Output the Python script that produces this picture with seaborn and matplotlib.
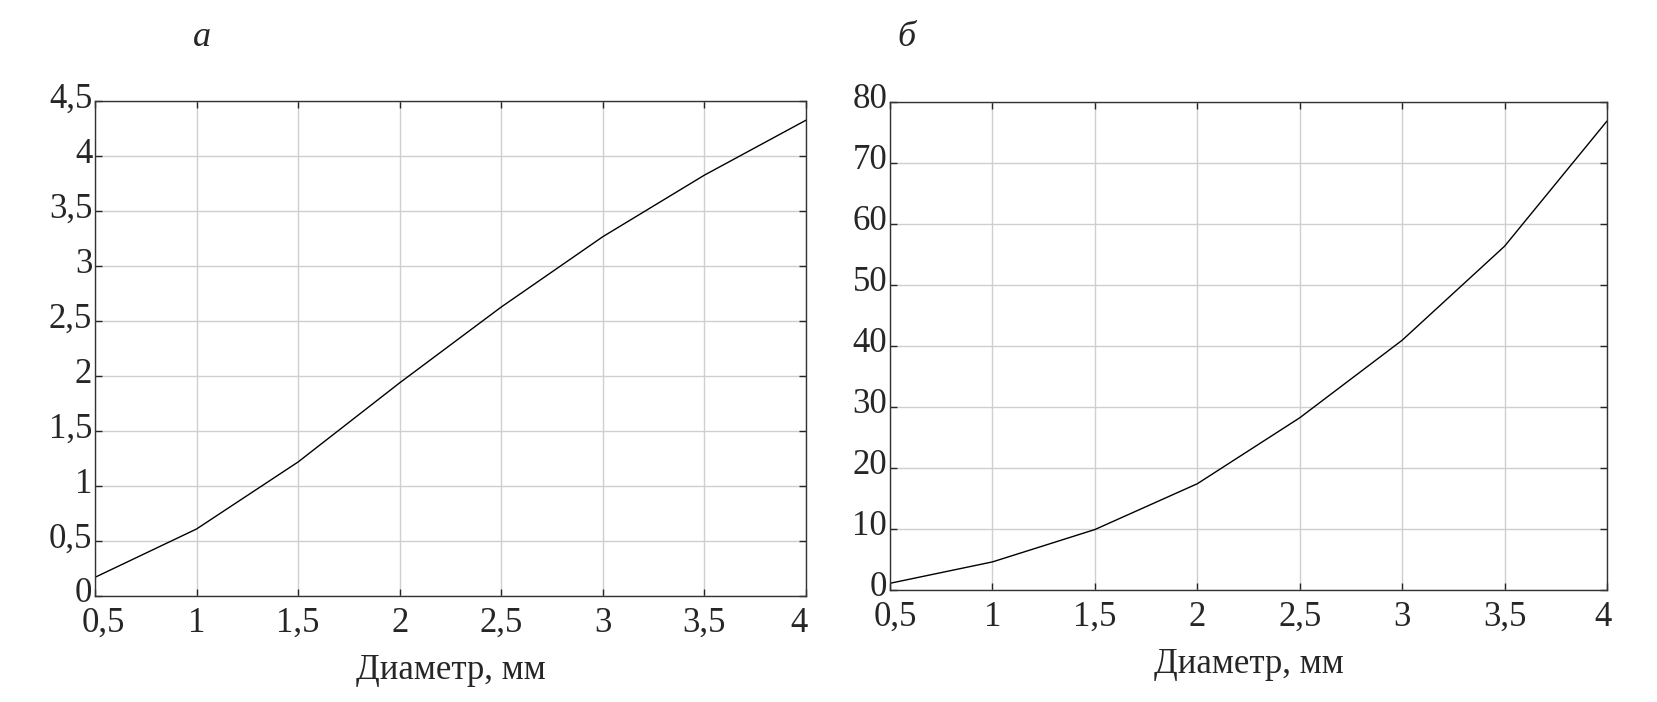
import pandas as pd
import matplotlib.pyplot as plt
import matplotlib.transforms as mtransforms
import seaborn as sns

# Diameter values (mm) shared by both panels
diameter = [0.5, 1.0, 1.5, 2.0, 2.5, 3.0, 3.5, 4.0]
# Panel a values
values_a = [0.17, 0.61, 1.22, 1.94, 2.63, 3.27, 3.83, 4.33]
# Panel b values
values_b = [1.1, 4.6, 9.9, 17.4, 28.2, 40.9, 56.3, 76.8]

x_ticks = [0.5, 1, 1.5, 2, 2.5, 3, 3.5, 4]
x_tick_labels = ["0,5", "1", "1,5", "2", "2,5", "3", "3,5", "4"]
y_ticks_a = [0, 0.5, 1, 1.5, 2, 2.5, 3, 3.5, 4, 4.5]
y_tick_labels_a = ["0", "0,5", "1", "1,5", "2", "2,5", "3", "3,5", "4", "4,5"]
y_ticks_b = [0, 10, 20, 30, 40, 50, 60, 70, 80]
y_tick_labels_b = [str(v) for v in y_ticks_b]

sns.set_style("ticks")
plt.rcParams['font.family'] = ['Liberation Serif', 'DejaVu Serif']


def nudge(fig, label, dx, dy):
    shift = mtransforms.ScaledTranslation(dx / 100, dy / 100, fig.dpi_scale_trans)
    label.set_transform(label.get_transform() + shift)


def draw_panel(fig, ax, values, y_ticks, y_labels, y_max, panel_label):
    df = pd.DataFrame({"d": diameter, "v": values})
    sns.lineplot(data=df, x="d", y="v", ax=ax, color="black", linewidth=1.0)
    ax.set_xlim(0.5, 4)
    ax.set_ylim(0, y_max)
    ax.set_xticks(x_ticks)
    ax.set_xticklabels(x_tick_labels)
    ax.set_yticks(y_ticks)
    ax.set_yticklabels(y_labels)
    ax.grid(True, color="#cfcfcf", linewidth=1.0)
    ax.tick_params(direction="in", top=True, right=True, labelsize=25,
                   length=5, width=1.0)
    ax.tick_params(axis="x", pad=8)
    ax.tick_params(axis="y", pad=2)
    # y tick labels sit a little above their grid lines in the reference
    for lab in ax.get_yticklabels():
        nudge(fig, lab, 0, 6)
    for s in ax.spines.values():
        s.set_linewidth(1.0)
        s.set_color("#333333")
    ax.set_xlabel("Диаметр, мм", fontsize=25, labelpad=10)
    ax.set_ylabel("")
    ax.set_title(panel_label, fontsize=26, style="italic", pad=40, x=0.15)


fig = plt.figure(figsize=(16.58, 7.02), dpi=100)
ax_a = fig.add_axes([95 / 1658, 1 - 596 / 702, 711 / 1658, 494.5 / 702])
ax_b = fig.add_axes([890 / 1658, 1 - 590 / 702, 717 / 1658, 488.5 / 702])

draw_panel(fig, ax_a, values_a, y_ticks_a, y_tick_labels_a, 4.5, "а")
draw_panel(fig, ax_b, values_b, y_ticks_b, y_tick_labels_b, 80, "б")
ax_b.title.set_x(0.023)

# end labels are pulled inward in the reference
xl_a = ax_a.get_xticklabels()
nudge(fig, xl_a[0], 8, 0)
nudge(fig, xl_a[-1], -7, 0)
xl_b = ax_b.get_xticklabels()
nudge(fig, xl_b[0], 5, 0)
nudge(fig, xl_b[-1], -4, 0)

fig.savefig("out.png", dpi=100)
